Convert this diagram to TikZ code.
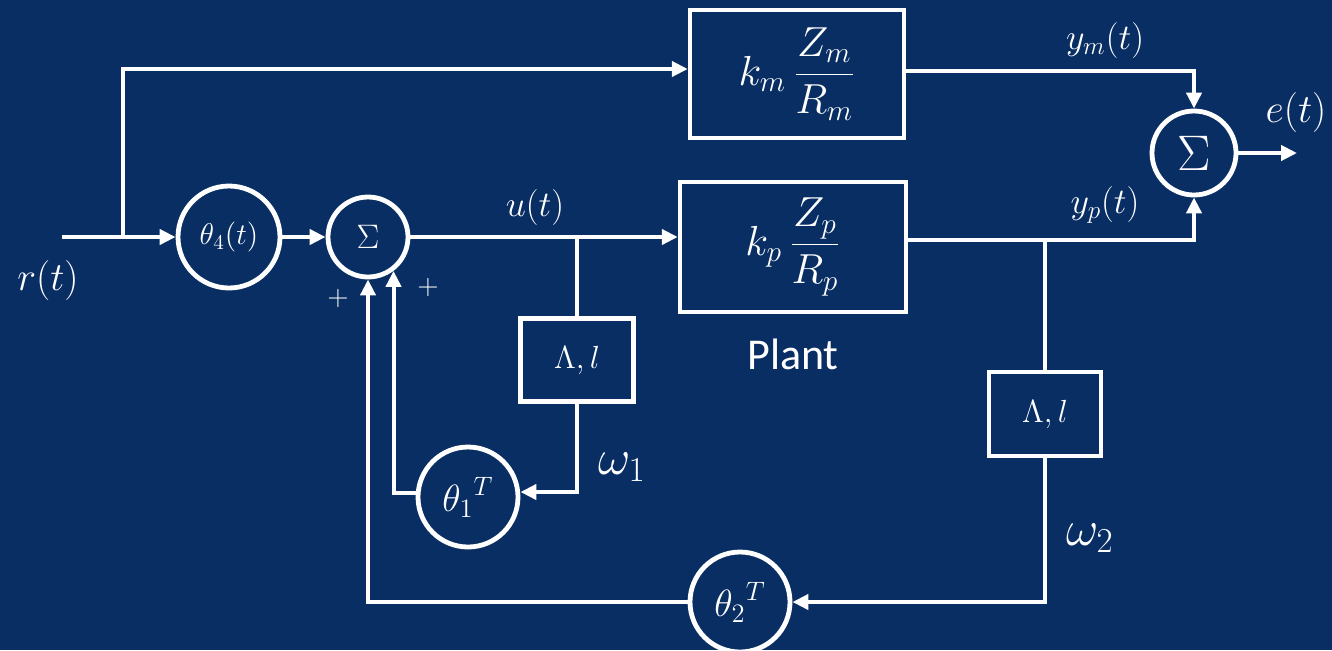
\RequirePackage{fix-cm}
\documentclass[tikz,border=0pt]{standalone}
\usepackage{xcolor}
\usepackage{amsmath, amssymb}
\usepackage{fontspec}
\setsansfont{Carlito}
\usepackage{tikz}
\usetikzlibrary{arrows.meta, positioning}

\definecolor{navy}{RGB}{9,46,99}
\newcommand{\fs}[1]{\fontsize{#1}{#1}\selectfont}

\begin{document}
\begin{tikzpicture}[
    x=0.5pt, y=-0.5pt,
    every node/.style={text=white},
    box/.style={rectangle, draw=white, line width=2.2pt, inner sep=0pt},
    gain/.style={circle, draw=white, line width=2.4pt, inner sep=0pt},
    lbl/.style={inner sep=0pt, font=\fs{20}},
    line/.style={draw=white, line width=2pt},
    arr/.style={line, -{Triangle[length=8pt, width=7.5pt]}}
]
\fill[navy] (0,0) rectangle (1332,650);
\useasboundingbox (0,0) rectangle (1332,650);

% blocks
\node[gain, minimum size=51pt, font=\fs{15}] (theta4) at (229,237) {$\theta_4(t)$};
\node[gain, minimum size=40pt, font=\fs{17}] (sum1)   at (368,237) {$\Sigma$};
\node[box, minimum width=107pt, minimum height=64pt, font=\fs{21}] (model) at (797,74)  {$k_m\,\dfrac{Z_m}{R_m}$};
\node[box, minimum width=113pt, minimum height=65pt, font=\fs{21}] (plant) at (793,247) {$k_p\,\dfrac{Z_p}{R_p}$};
\node[lbl, below=12pt of plant, font=\sffamily\fs{22}] (plantlbl) {Plant};
\node[box, minimum width=56.5pt, minimum height=41.5pt, font=\fs{16}] (filt1) at (577,360)  {$\Lambda,l$};
\node[box, minimum width=56pt, minimum height=42pt, font=\fs{16}]     (filt2) at (1045,414) {$\Lambda,l$};
\node[gain, minimum size=50pt, font=\fs{19}] (theta1) at (468,497) {${\theta_1}^T$};
\node[gain, minimum size=50pt, font=\fs{19}] (theta2) at (740,602) {${\theta_2}^T$};
\node[gain, minimum size=42pt, font=\fs{25}] (sum2)   at (1194,153) {$\Sigma$};

% signal labels
\node[lbl] (rlbl)  at (48,280)   {$r(t)$};
\node[lbl, font=\fs{18}] (ulbl)  at (535,207)  {$u(t)$};
\node[lbl, font=\fs{18}] (ymlbl) at (1105,40)  {$y_m(t)$};
\node[lbl, font=\fs{18}] (yplbl) at (1105,205) {$y_p(t)$};
\node[lbl] (elbl)  at (1296,112) {$e(t)$};
\node[lbl, font=\fs{25}] (w1lbl) at (622,467)  {$\omega_1$};
\node[lbl, font=\fs{25}] (w2lbl) at (1090,538) {$\omega_2$};
\node[lbl, font=\fs{14}] (plus1) at (338,298)  {$+$};
\node[lbl, font=\fs{14}] (plus2) at (428,287)  {$+$};

\coordinate (rin)    at (62,237);
\coordinate (rsplit) at (123,237);
\coordinate (eout)   at (1297,153);
\coordinate (ypsplit) at ([yshift=3.5pt]plant.east -| filt2.north);

% connectors
\draw[arr]  (rin) -- (theta4);
\draw[arr]  (rsplit) |- ([yshift=2.5pt]model.west);
\draw[arr]  (theta4) -- (sum1);
\draw[arr]  (sum1.east) -- (sum1.east -| plant.west);
\draw[line] (filt1.north) -- (filt1.north |- sum1.east);
\draw[arr]  (filt1.south) |- ([yshift=2.5pt]theta1.east);
\draw[arr]  ([yshift=2pt]theta1.west) -| (sum1.-53);
\draw[arr]  (theta2.west) -| (sum1.south);
\draw[arr]  ([yshift=1.5pt]model.east) -| (sum2.north);
\draw[arr]  ([yshift=3.5pt]plant.east) -| (sum2.south);
\draw[line] (filt2.north) -- (ypsplit);
\draw[arr]  (filt2.south) |- (theta2.east);
\draw[arr]  (sum2) -- (eout);
\end{tikzpicture}
\end{document}
